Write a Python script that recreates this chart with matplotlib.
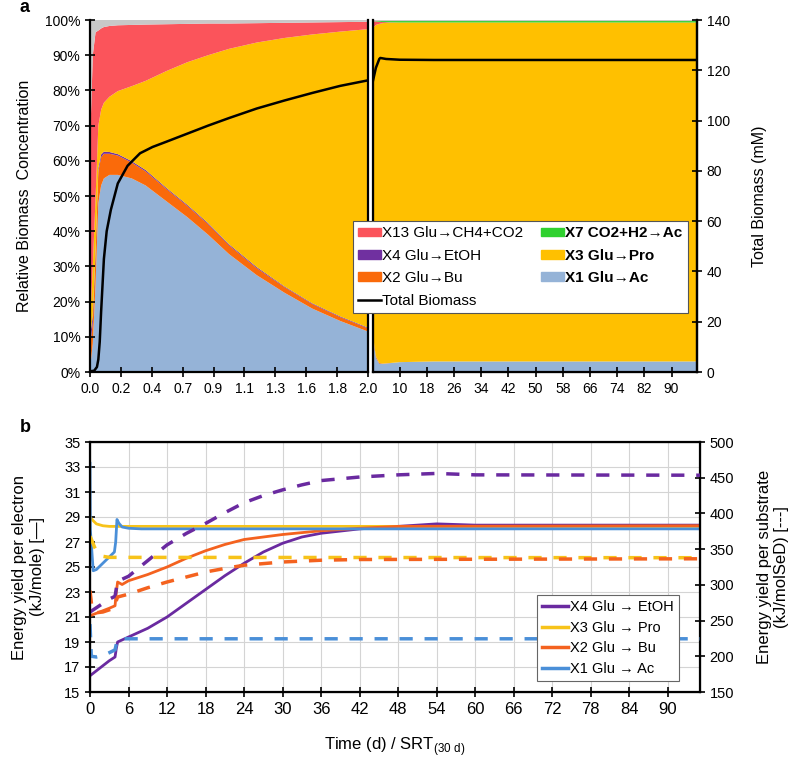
import numpy as np
import matplotlib
matplotlib.use("Agg")
import matplotlib.pyplot as plt
from matplotlib.patches import Patch
from matplotlib.lines import Line2D

plt.rcParams['font.family'] = ['Liberation Sans', 'DejaVu Sans']

W, H = 794, 758

# ---------------- panel a : relative biomass (%) ----------------
# first segment, time 0 - 2 d
t_a1 = [0, 0.02, 0.04, 0.06, 0.08, 0.1, 0.14, 0.2, 0.3, 0.4, 0.55, 0.7, 0.85, 1.0, 1.2, 1.4, 1.6, 1.8, 2.0]
x1_a1 = [1, 8, 25, 48, 53, 55, 56, 56, 55, 53, 48.5, 44, 39, 33.5, 27.5, 22.5, 18, 14.5, 11.5]
x2_a1 = [6, 6, 8, 9, 8, 7, 6, 5.5, 4.5, 4, 3.5, 3.2, 3, 2.5, 2, 1.6, 1.3, 1.1, 0.9]
x4_a1 = [3, 2, 1.5, 1, 0.8, 0.6, 0.5, 0.4, 0.4, 0.4, 0.3, 0.3, 0.3, 0.3, 0.3, 0.2, 0.2, 0.2, 0.2]
x3_a1 = [4, 14, 15, 12, 12.7, 13.9, 15.7, 17.9, 21.3, 25.3, 33.2, 40.5, 47.7, 55.5, 63.8, 70.6, 76.4, 80.9, 84.8]
x13_a1 = [50, 60, 47, 27, 23.1, 21.5, 20.1, 18.7, 17.4, 16, 13.3, 10.9, 9, 7.2, 5.5, 4.3, 3.4, 2.7, 2.1]
x7_a1 = [0] * len(t_a1)

# second segment, time 2 - 97.5 d
t_a2 = [2, 2.5, 3, 4, 5, 7, 10, 20, 40, 60, 80, 97.5]
x1_a2 = [11.5, 7, 4, 2.3, 2.3, 2.5, 2.8, 3, 3, 3, 3, 3]
x2_a2 = [0.9, 0.6, 0.4, 0.2, 0.1, 0.05, 0, 0, 0, 0, 0, 0]
x4_a2 = [0.2, 0.1, 0.1, 0.05, 0, 0, 0, 0, 0, 0, 0, 0]
x3_a2 = [85, 90.4, 94.1, 96.35, 96.7, 96.7, 96.5, 96.3, 96.3, 96.3, 96.3, 96.3]
x13_a2 = [2.1, 1.5, 1.0, 0.6, 0.3, 0.1, 0, 0, 0, 0, 0, 0]
x7_a2 = [0, 0.05, 0.1, 0.2, 0.3, 0.35, 0.4, 0.4, 0.4, 0.4, 0.4, 0.4]

# total biomass (mM)
t_bm1 = [0, 0.03, 0.05, 0.06, 0.07, 0.08, 0.1, 0.12, 0.15, 0.2, 0.27, 0.36, 0.45, 0.55, 0.7, 0.85, 1.0, 1.2, 1.4, 1.6, 1.8, 2.0]
bm1 = [0.3, 0.5, 2, 5, 12, 24, 45, 56, 64.5, 75, 82, 87, 89.5, 91.6, 94.8, 98, 101, 104.8, 108, 111, 113.8, 116]
t_bm2 = [2, 3, 4, 4.3, 6, 10, 20, 40, 97.5]
bm2 = [115, 121, 124.5, 124.9, 124.5, 124.2, 124.1, 124.1, 124.1]

a1_ticks = np.linspace(0, 2, 10)
a1_ticklabels = ['0.0', '0.2', '0.4', '0.7', '0.9', '1.1', '1.3', '1.6', '1.8', '2.0']
a2_ticks = [10, 18, 26, 34, 42, 50, 58, 66, 74, 82, 90]

# ---------------- panel b : energy yields ----------------
# solid = per electron (left axis), dashed = per substrate (right axis)
t_x1e = [0, 0.05, 0.5, 1, 2, 3, 3.8, 4.0, 4.2, 4.5, 5, 6, 8, 95]
x1e = [33.3, 28, 24.7, 24.8, 25.3, 25.8, 26.2, 27, 28.8, 28.5, 28.2, 28.1, 28.05, 28.05]
t_x3e = [0, 0.5, 1, 2, 3, 5, 95]
x3e = [29.0, 28.7, 28.45, 28.3, 28.25, 28.25, 28.25]
t_x2e = [0, 1, 2, 3, 3.9, 4.1, 4.3, 5, 6, 9, 12, 15, 18, 21, 24, 30, 36, 42, 48, 95]
x2e = [21.1, 21.3, 21.5, 21.7, 21.9, 23.0, 23.8, 23.6, 23.9, 24.4, 25.0, 25.7, 26.3, 26.8, 27.2, 27.6, 27.9, 28.1, 28.25, 28.3]
t_x4e = [0, 1, 2, 3, 3.9, 4.1, 4.3, 6, 9, 12, 15, 18, 21, 24, 27, 30, 33, 36, 42, 48, 54, 60, 95]
x4e = [16.3, 16.7, 17.1, 17.5, 17.8, 18.5, 19.0, 19.4, 20.1, 21.0, 22.1, 23.2, 24.3, 25.3, 26.2, 26.9, 27.4, 27.7, 28.05, 28.25, 28.45, 28.35, 28.35]

t_x4s = t_x4e
x4s = [262, 268, 274, 280, 284, 295, 305, 312, 334, 356, 372, 386, 401, 415, 425, 433, 440, 446, 451, 454, 456, 454, 453.5]
t_x3s = [0, 0.3, 0.7, 1, 1.5, 2, 3, 95]
x3s = [368, 362, 353, 348, 343, 340, 338.5, 338]
t_x2s = [0, 0.3, 1, 2, 3, 3.9, 4.1, 4.3, 6, 9, 12, 15, 18, 21, 24, 30, 36, 42, 95]
x2s = [292, 268, 261, 262, 265, 268, 278, 283, 287, 296, 304, 311, 318, 323, 327.5, 332, 334.5, 335.5, 336.5]
t_x1s = [0, 0.2, 1, 2, 3, 3.9, 4.2, 4.5, 95]
x1s = [245, 200, 199, 201, 205, 209, 221, 224.5, 224.5]

c_x1 = '#95b3d7'
c_x2 = '#fa6a0a'
c_x4 = '#7030a0'
c_x3 = '#ffc000'
c_x13 = '#fb545b'
c_x7 = '#2fd12f'
c_oth = '#c8c8c8'

fig = plt.figure(figsize=(W / 100, H / 100), dpi=100)


def rect(l, t, r, b):
    return [l / W, 1 - b / H, (r - l) / W, (b - t) / H]


ax1 = fig.add_axes(rect(90, 20, 368, 372))
ax2 = fig.add_axes(rect(372.5, 20, 697, 372))

for ax, t, x1, x2, x4, x3, x13, x7 in [
        (ax1, t_a1, x1_a1, x2_a1, x4_a1, x3_a1, x13_a1, x7_a1),
        (ax2, t_a2, x1_a2, x2_a2, x4_a2, x3_a2, x13_a2, x7_a2)]:
    parts = np.array([x1, x2, x4, x3, x13, x7], dtype=float)
    other = 100 - parts.sum(axis=0)
    ax.stackplot(t, *parts, other,
                 colors=[c_x1, c_x2, c_x4, c_x3, c_x13, c_x7, c_oth], linewidth=0)
    ax.set_ylim(0, 100)
    ax.spines['top'].set_visible(False)
    for s in ['left', 'right', 'bottom']:
        ax.spines[s].set_linewidth(1.6)
    ax.tick_params(axis='x', direction='inout', length=7, width=1.2, labelsize=10)

ax1.set_xlim(0, 2.0)
ax1.set_xticks(a1_ticks)
ax1.set_xticklabels(a1_ticklabels)
ax1.set_yticks(np.arange(0, 101, 10))
ax1.set_yticklabels([f'{v}%' for v in range(0, 101, 10)])
ax1.tick_params(axis='y', direction='inout', length=7, width=1.2, labelsize=10)
ax1.set_ylabel('Relative Biomass  Concentration', fontsize=11.5, labelpad=9)

ax2.set_xlim(2, 97.5)
ax2.set_xticks(a2_ticks)
ax2.set_yticks([])

ax1r = ax1.twinx()
ax1r.set_ylim(0, 140)
ax1r.axis('off')
ax1r.plot(t_bm1, bm1, color='black', lw=1.8)

ax2r = ax2.twinx()
ax2r.set_ylim(0, 140)
ax2r.set_xlim(2, 97.5)
ax2r.plot(t_bm2, bm2, color='black', lw=1.8)
ax2r.set_yticks(range(0, 141, 20))
ax2r.tick_params(axis='y', direction='inout', length=7, width=1.2, labelsize=10)
ax2r.spines['top'].set_visible(False)
ax2r.spines['right'].set_linewidth(1.6)
ax2r.set_ylabel('Total Biomass (mM)', fontsize=11.5, labelpad=16)

handles = [Patch(color=c_x13), Patch(color=c_x4), Patch(color=c_x2),
           Line2D([], [], color='black', lw=1.8),
           Patch(color=c_x7), Patch(color=c_x3), Patch(color=c_x1)]
labels = ['X13 Glu→CH4+CO2', 'X4 Glu→EtOH', 'X2 Glu→Bu', 'Total Biomass',
          'X7 CO2+H2→Ac', 'X3 Glu→Pro', 'X1 Glu→Ac']
leg = fig.legend(handles, labels, ncol=2, loc='upper left',
                 bbox_to_anchor=(353 / W, 1 - 221 / H), borderaxespad=0, fontsize=11,
                 handlelength=1.45, handleheight=0.5, handletextpad=0.1,
                 labelspacing=0.55, columnspacing=1.2, borderpad=0.35,
                 frameon=True, fancybox=False, framealpha=1, edgecolor='#555555')
leg.get_frame().set_linewidth(0.8)
for txt in leg.get_texts()[4:]:
    txt.set_fontweight('bold')

fig.text(20 / W, 1 - 8 / H, 'a', fontsize=13, fontweight='bold', va='center')

# ---------------- panel b ----------------
axb = fig.add_axes(rect(90, 442, 700, 692))
axb.set_xlim(0, 95)
axb.set_ylim(15, 35)
axb.set_xticks(range(0, 91, 6))
axb.set_yticks(range(15, 36, 2))
axb.grid(True, color='#d4d4d4', lw=0.8)
axb.set_axisbelow(True)
for s in axb.spines.values():
    s.set_linewidth(1.6)
axb.tick_params(axis='x', direction='inout', length=7, width=1.2, labelsize=12)
axb.tick_params(axis='y', direction='inout', length=7, width=1.2, labelsize=10.5)
axb.set_ylabel('Energy yield per electron\n(kJ/mole) [—]', fontsize=12, labelpad=14)
axb.set_xlabel('Time (d) / SRT$_{\\mathregular{(30\\ d)}}$', fontsize=12, labelpad=13)

c_b4 = '#6a2aa0'
c_b3 = '#f7c31a'
c_b2 = '#f4621f'
c_b1 = '#4a8fd8'

axbr = axb.twinx()
axbr.set_ylim(150, 500)
axbr.set_yticks(range(150, 501, 50))
axbr.tick_params(axis='y', direction='inout', length=7, width=1.2, labelsize=10.5)
axbr.set_ylabel('Energy yield per substrate\n(kJ/molSeD) [---]', fontsize=12, labelpad=16)

dash = (3.8, 3.4)
axbr.plot(t_x4s, x4s, color=c_b4, lw=2.5, dashes=dash)
axbr.plot(t_x3s, x3s, color=c_b3, lw=2.5, dashes=dash)
axbr.plot(t_x2s, x2s, color=c_b2, lw=2.5, dashes=dash)
axbr.plot(t_x1s, x1s, color=c_b1, lw=2.5, dashes=dash)

axb.plot(t_x4e, x4e, color=c_b4, lw=2)
axb.plot(t_x3e, x3e, color=c_b3, lw=2)
axb.plot(t_x2e, x2e, color=c_b2, lw=2)
axb.plot(t_x1e, x1e, color=c_b1, lw=2)

leg_b = axbr.legend([Line2D([], [], color=c, lw=2.5) for c in [c_b4, c_b3, c_b2, c_b1]],
                    ['X4 Glu → EtOH', 'X3 Glu → Pro', 'X2 Glu → Bu', 'X1 Glu → Ac'],
                    loc='upper left', bbox_to_anchor=(537 / W, 1 - 595 / H),
                    bbox_transform=fig.transFigure, borderaxespad=0, fontsize=10.5,
                    handlelength=1.8, handletextpad=0.1, labelspacing=0.45,
                    borderpad=0.35, fancybox=False, framealpha=1, edgecolor='#666666')
leg_b.get_frame().set_linewidth(0.8)

fig.text(20 / W, 1 - 428 / H, 'b', fontsize=13, fontweight='bold', va='center')

fig.savefig('out.png', dpi=100)
